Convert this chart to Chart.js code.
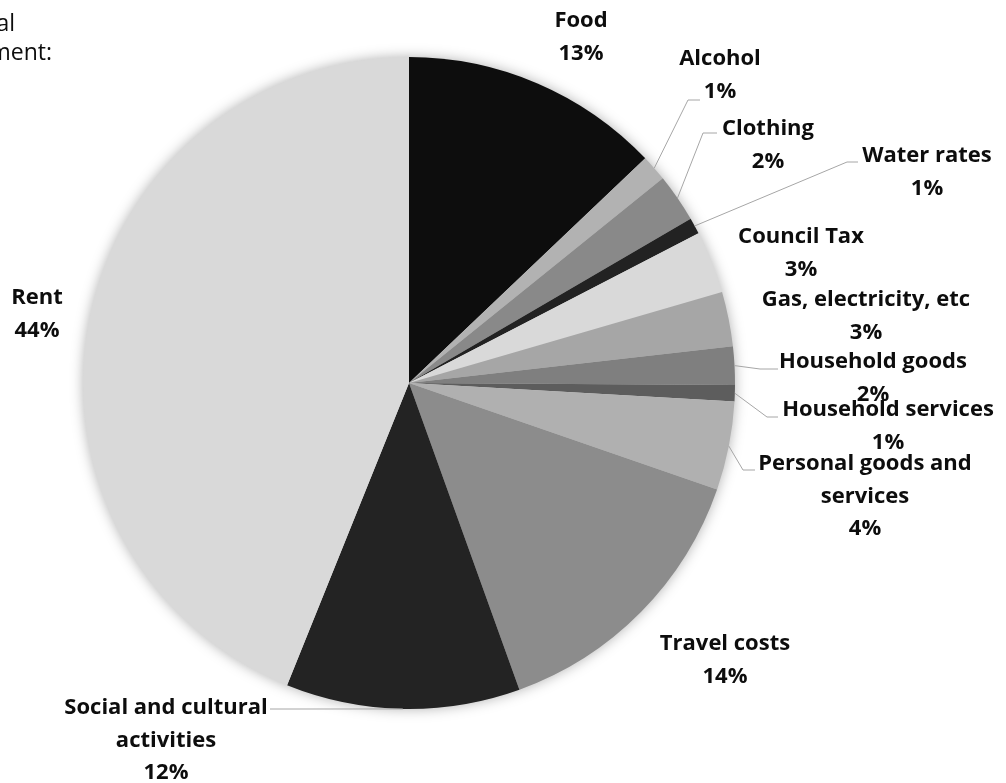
<!DOCTYPE html>
<html>
<head>
<meta charset="utf-8">
<script src="https://cdn.jsdelivr.net/npm/chart.js@4"></script>
<style>
  html, body { margin: 0; padding: 0; background: #fff; }
  #wrap { width: 1006px; height: 783px; position: relative; }
</style>
</head>
<body>
<div id="wrap"><canvas id="pie"></canvas></div>
<script>
var categories = [
  "Food", "Alcohol", "Clothing", "Water rates", "Council Tax",
  "Gas, electricity, etc", "Household goods", "Household services",
  "Personal goods and services", "Travel costs",
  "Social and cultural activities", "Rent"
];
// share of spend, percent
var shares = [12.9, 1.3, 2.4, 0.8, 3.1, 2.7, 1.9, 0.8, 4.4, 14.2, 11.6, 43.9];
var sliceColors = [
  "#0d0d0d", "#b2b2b2", "#898989", "#222222", "#d9d9d9", "#a6a6a6",
  "#7f7f7f", "#5d5d5d", "#b0b0b0", "#8c8c8c", "#232323", "#d9d9d9"
];

// label text lines and where each label block sits (centre of first line)
var labelLines = [
  ["Food"], ["Alcohol"], ["Clothing"], ["Water rates"], ["Council Tax"],
  ["Gas, electricity, etc"], ["Household goods"], ["Household services"],
  ["Personal goods and", "services"], ["Travel costs"],
  ["Social and cultural", "activities"], ["Rent"]
];
var labelAt = [
  [581, 21], [720, 59], [768, 129], [927, 156], [801, 237],
  [866, 300], [873, 362], [888, 410], [865, 464], [725, 644],
  [166, 708], [37, 298]
];
// leader lines: [elbowX, elbowY, endX] or null
var leaders = [
  null, [688, 100, 700], [703, 133, 717], [847, 162, 858], null,
  null, [760, 369, 778], [767, 417, 778], [743, 470, 755], null,
  [300, 709, 270], null
];

var ctx = document.getElementById("pie");
var total = shares.reduce(function (a, b) { return a + b; }, 0);

var pieShadow = {
  id: "pieShadow",
  beforeDatasetsDraw: function (chart) {
    var arc = chart.getDatasetMeta(0).data[0];
    if (!arc) return;
    var c = chart.ctx;
    c.save();
    c.shadowColor = "rgba(0,0,0,0.35)";
    c.shadowBlur = 14;
    c.fillStyle = "#d9d9d9";
    c.beginPath();
    c.arc(arc.x, arc.y, arc.outerRadius - 1, 0, Math.PI * 2);
    c.fill();
    c.restore();
  }
};

var pieLabels = {
  id: "pieLabels",
  afterDatasetsDraw: function (chart) {
    var c = chart.ctx;
    var meta = chart.getDatasetMeta(0);
    c.save();
    // leader lines
    c.strokeStyle = "#a6a6a6";
    c.lineWidth = 1;
    meta.data.forEach(function (arc, i) {
      var l = leaders[i];
      if (!l) return;
      var mid = (arc.startAngle + arc.endAngle) / 2;
      var sx = arc.x + Math.cos(mid) * arc.outerRadius;
      var sy = arc.y + Math.sin(mid) * arc.outerRadius;
      c.beginPath();
      c.moveTo(sx, sy);
      c.lineTo(l[0], l[1]);
      c.lineTo(l[2], l[1]);
      c.stroke();
    });
    // label text
    c.fillStyle = "#0d0d0d";
    c.font = "bold 22px 'Open Sans'";
    c.textAlign = "center";
    c.textBaseline = "middle";
    meta.data.forEach(function (arc, i) {
      var lines = labelLines[i].concat([Math.round(shares[i] / total * 100) + "%"]);
      var p = labelAt[i];
      lines.forEach(function (t, k) {
        c.fillText(t, p[0], p[1] + k * 32.5);
      });
    });
    // cropped caption text at top left
    c.font = "23px 'Open Sans'";
    c.textAlign = "right";
    c.fillText("al", 15, 24);
    c.fillText("ment:", 52, 53);
    c.restore();
  }
};

new Chart(ctx, {
  type: "pie",
  data: {
    labels: categories,
    datasets: [
      {
        data: shares,
        backgroundColor: sliceColors,
        borderWidth: 0
      }
    ]
  },
  options: {
    responsive: true,
    maintainAspectRatio: false,
    animation: false,
    layout: { padding: { top: 57, bottom: 74, left: 83, right: 271 } },
    plugins: {
      legend: { display: false },
      tooltip: { enabled: false }
    }
  },
  plugins: [pieShadow, pieLabels]
});
</script>
</body>
</html>
